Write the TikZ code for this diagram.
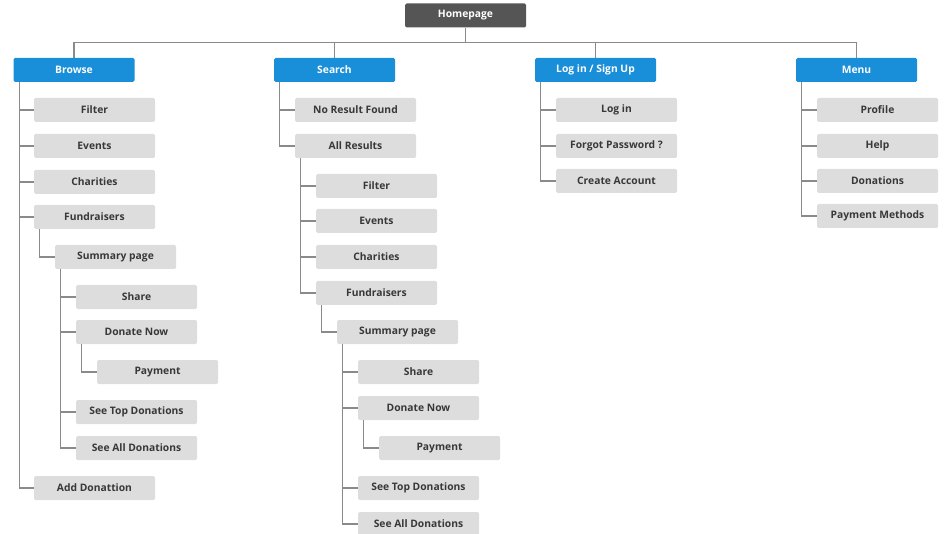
\documentclass[tikz,border=0pt]{standalone}
\usepackage{fontspec}
\setmainfont{Open Sans}
\definecolor{topgray}{HTML}{555555}
\definecolor{secblue}{HTML}{1A8FD9}
\definecolor{pagegray}{HTML}{DDDDDD}
\definecolor{linkgray}{HTML}{8A8A8A}
\definecolor{textgray}{HTML}{383838}
\tikzset{
  pagebox/.style={fill=pagegray, rounded corners=1.5pt, minimum width=121pt,
    minimum height=24pt, inner sep=0pt, font=\fontsize{10.3}{12}\selectfont\bfseries,
    text=textgray},
  secbox/.style={pagebox, fill=secblue, text=white},
  homebox/.style={pagebox, fill=topgray, text=white},
  link/.style={draw=linkgray, line width=1.3pt}
}
\begin{document}
\begin{tikzpicture}[x=1pt,y=-1pt]
      \useasboundingbox (0,0) rectangle (944,534);
      \path
        (465.5,15.5) node[homebox] (home){Homepage}
        (74,70) node[secbox] (browse){Browse}
        (334.5,70) node[secbox] (search){Search}
        (595.5,70) node[secbox] (login){Log in / Sign Up}
        (856.5,70) node[secbox] (menu){Menu}
        % browse
        (94.5,110) node[pagebox] (bfilter){Filter}
        (94.5,146) node[pagebox] (bevents){Events}
        (94.5,182) node[pagebox] (bcharities){Charities}
        (94.5,217) node[pagebox] (bfund){Fundraisers}
        (115.5,257) node[pagebox] (bsummary){Summary page}
        (136.5,297) node[pagebox] (bshare){Share}
        (136.5,332) node[pagebox] (bdonate){Donate Now}
        (157.5,372) node[pagebox] (bpayment){Payment}
        (136.5,412) node[pagebox] (btop){See Top Donations}
        (136.5,448) node[pagebox] (ball){See All Donations}
        (94.5,488) node[pagebox] (badd){Add Donattion}
        % search
        (355.5,110) node[pagebox] (snone){No Result Found}
        (355.5,146) node[pagebox] (sall){All Results}
        (376.5,186) node[pagebox] (sfilter){Filter}
        (376.5,221) node[pagebox] (sevents){Events}
        (376.5,257) node[pagebox] (scharities){Charities}
        (376.5,293) node[pagebox] (sfund){Fundraisers}
        (397.5,332) node[pagebox] (ssummary){Summary page}
        (418.5,372) node[pagebox] (sshare){Share}
        (418.5,408) node[pagebox] (sdonate){Donate Now}
        (439.5,448) node[pagebox] (spayment){Payment}
        (418.5,488) node[pagebox] (stop){See Top Donations}
        (418.5,524) node[pagebox] (sallres){See All Donations}
        % log in
        (616.5,110) node[pagebox] (llogin){Log in}
        (616.5,146) node[pagebox] (lforgot){Forgot Password ?}
        (616.5,181) node[pagebox] (lcreate){Create Account}
        % menu
        (877.5,110) node[pagebox] (mprofile){Profile}
        (877.5,146) node[pagebox] (mhelp){Help}
        (877.5,181) node[pagebox] (mdonations){Donations}
        (877.5,216) node[pagebox] (mpayment){Payment Methods};
      \begin{scope}[link]
        \draw (home.south) -- ++(0,15);
        \draw (browse.north) -- ++(0,-15) -| (menu.north);
        \draw (search.north) -- ++(0,-15);
        \draw (login.north) -- ++(0,-15);
        \foreach \p/\c in {browse/bfilter, browse/bevents, browse/bcharities,
            browse/bfund, browse/badd, bfund/bsummary, bsummary/bshare,
            bsummary/bdonate, bsummary/btop, bsummary/ball, bdonate/bpayment,
            search/snone, search/sall, sall/sfilter, sall/sevents,
            sall/scharities, sall/sfund, sfund/ssummary, ssummary/sshare,
            ssummary/sdonate, ssummary/stop, ssummary/sallres, sdonate/spayment,
            login/llogin, login/lforgot, login/lcreate,
            menu/mprofile, menu/mhelp, menu/mdonations, menu/mpayment}
          \draw ([xshift=6pt]\p.south west) |- (\c.west);
      \end{scope}
    \end{tikzpicture}
\end{document}
